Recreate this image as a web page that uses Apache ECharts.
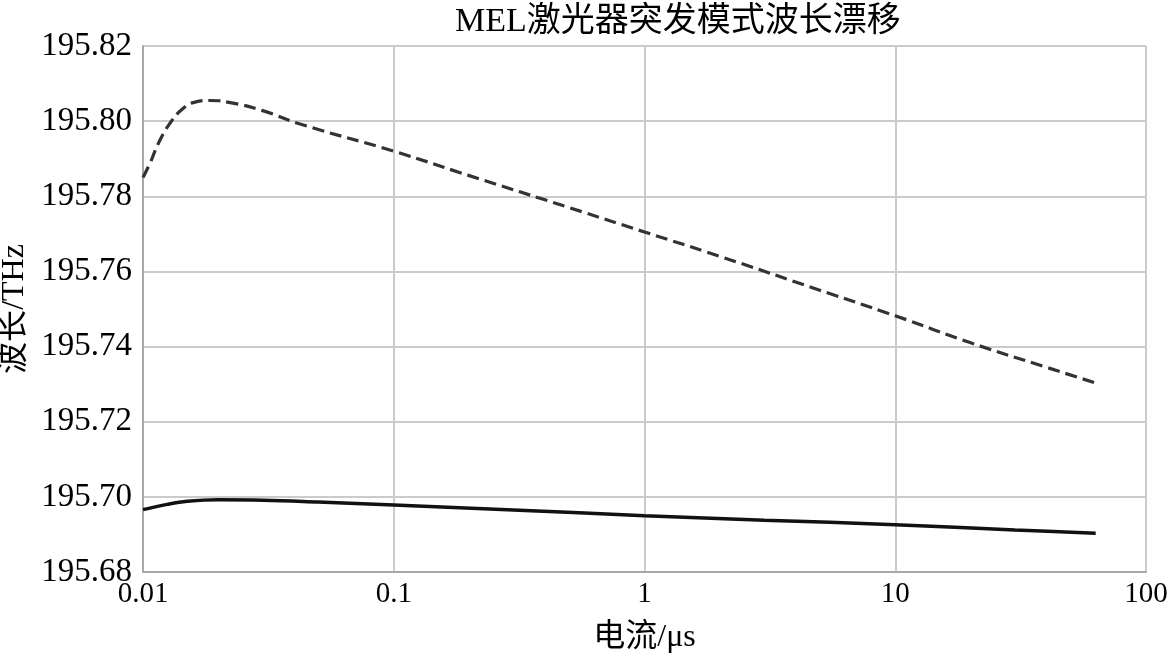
<!DOCTYPE html>
<html>
<head>
<meta charset="utf-8">
<script src="https://cdn.jsdelivr.net/npm/echarts@6/dist/echarts.min.js"></script>
<style>html,body{margin:0;padding:0;background:#fff;}#c{width:1171px;height:659px;}</style>
</head>
<body>
<div id="c"></div>
<script>
var titleText = 'MEL激光器突发模式波长漂移';
var xName = '电流/μs';
var yName = '波长/THz';
var xTickLabels = ['0.01', '0.1', '1', '10', '100'];

var upperX = [0.01, 0.0107, 0.0115, 0.0128, 0.0144, 0.016, 0.0185, 0.022, 0.03, 0.042, 0.1, 0.2, 0.5, 1, 2, 5, 10, 20, 40, 63];
var upperY = [195.785, 195.789, 195.794, 195.7994, 195.8033, 195.805, 195.8055, 195.805, 195.8028, 195.7993, 195.792, 195.7855, 195.777, 195.7705, 195.764, 195.755, 195.7482, 195.741, 195.7345, 195.7303];

var lowerX = [0.01, 0.0125, 0.015, 0.02, 0.03, 0.05, 0.1, 0.3, 1, 3, 10, 30, 63];
var lowerY = [195.6966, 195.698, 195.6988, 195.6992, 195.6991, 195.6986, 195.6978, 195.6965, 195.695, 195.6938, 195.6926, 195.6912, 195.6903];

function pairs(xs, ys) { return xs.map(function (x, i) { return [x, ys[i]]; }); }

var serif = '"Liberation Serif", "Times New Roman", "Noto Sans CJK SC", serif';
var chart = echarts.init(document.getElementById('c'));
chart.setOption({
  backgroundColor: '#fff',
  animation: false,
  title: {
    text: titleText, left: 450, top: 0,
    textStyle: { fontFamily: serif, fontSize: 34, fontWeight: 'normal', color: '#000' }
  },
  grid: { left: 143, right: 25, top: 46, bottom: 87, containLabel: false, outerBoundsMode: 'none' },
  xAxis: {
    type: 'log', logBase: 10, min: 0.01, max: 100,
    name: xName, nameLocation: 'middle', nameGap: 50,
    nameTextStyle: { fontFamily: serif, fontSize: 32, color: '#000' },
    axisLine: { lineStyle: { color: '#a8a8a8', width: 2 } },
    axisTick: { show: false },
    minorTick: { show: false },
    axisLabel: {
      margin: 8, fontFamily: serif, fontSize: 29, color: '#000',
      formatter: function (v) { var i = Math.round(Math.log10(v)) + 2; return xTickLabels[i] || ''; }
    },
    splitLine: { show: true, lineStyle: { color: '#cbcbcb', width: 2 } }
  },
  yAxis: {
    type: 'value', min: 195.68, max: 195.82, interval: 0.02,
    name: yName, nameLocation: 'middle', nameGap: 106, nameRotate: 90,
    nameTextStyle: { fontFamily: serif, fontSize: 32, color: '#000' },
    axisLine: { show: true, lineStyle: { color: '#a8a8a8', width: 2 } },
    axisTick: { show: false },
    axisLabel: {
      margin: 11, fontFamily: serif, fontSize: 33, color: '#000',
      formatter: function (v) { return v.toFixed(2); }
    },
    splitLine: { show: true, lineStyle: { color: '#cbcbcb', width: 2 } }
  },
  series: [
    {
      type: 'line', data: pairs(upperX, upperY), smooth: 0.5, showSymbol: false,
      lineStyle: { color: '#333', width: 3.2, type: [12, 6] }
    },
    {
      type: 'line', data: pairs(lowerX, lowerY), smooth: 0.4, showSymbol: false,
      lineStyle: { color: '#111', width: 3.5 }
    }
  ]
});
</script>
</body>
</html>
